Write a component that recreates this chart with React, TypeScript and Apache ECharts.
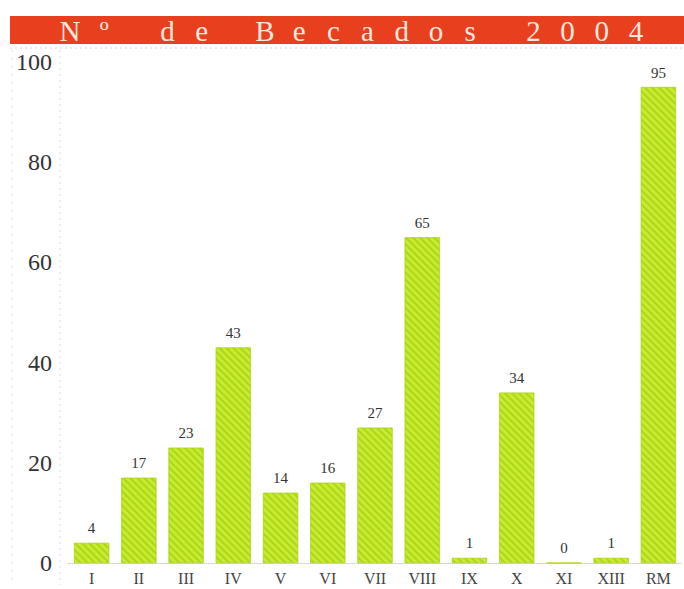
import React, { useEffect, useRef } from "react";
import * as echarts from "echarts";

const categories = ["I", "II", "III", "IV", "V", "VI", "VII", "VIII", "IX", "X", "XI", "XIII", "RM"];
const values = [4, 17, 23, 43, 14, 16, 27, 65, 1, 34, 0, 1, 95];
const yTicks = [0, 20, 40, 60, 80, 100];
const titleText = "Nº de Becados 2004";

export default function App() {
  const ref = useRef<HTMLDivElement>(null);
  useEffect(() => {
    if (!ref.current) return;
    const chart = echarts.init(ref.current, null, { renderer: "svg" });
    const serif = "Liberation Serif";
    const step = 34.2;
    const startX = 70;
    const chars = titleText.split("");
    const titleEls: any[] = [];
    let x = startX;
    chars.forEach((c) => {
      if (c === " ") {
        x += step * 0.85;
        return;
      }
      titleEls.push({
        type: "text",
        x,
        y: 31,
        style: {
          text: c,
          fill: "#f8e8de",
          font: `29px '${serif}'`,
          align: "center",
          verticalAlign: "middle",
        },
      });
      x += step;
    });
    chart.setOption({
      animation: false,
      backgroundColor: "#ffffff",
      grid: { left: 68, right: 2, top: 62, bottom: 26, containLabel: false },
      xAxis: {
        type: "category",
        data: categories,
        axisLine: { show: true, lineStyle: { color: "#cfcfcf", type: "dotted", width: 1 } },
        axisTick: { show: false },
        axisLabel: { color: "#444", fontFamily: serif, fontSize: 16, margin: 7 },
      },
      yAxis: {
        type: "value",
        min: 0,
        max: 100,
        interval: 20,
        axisLine: { show: false },
        axisTick: { show: false },
        splitLine: { show: false },
        axisLabel: {
          color: "#333",
          fontFamily: serif,
          fontSize: 24,
          margin: 16,
          formatter: (v: number) => (yTicks.includes(v) ? String(v) : ""),
        },
      },
      series: [
        {
          type: "bar",
          data: values,
          barWidth: 35,
          itemStyle: {
            color: "#c6ec2c",
            borderColor: "#b0d41e",
            borderWidth: 0.5,
            decal: {
              symbol: "rect",
              color: "rgba(150,190,20,0.5)",
              dashArrayX: [1, 0],
              dashArrayY: [1.5, 2.5],
              rotation: Math.PI / 4,
              symbolSize: 1,
            },
          },
          label: {
            show: true,
            position: "top",
            distance: 7,
            color: "#333",
            fontFamily: serif,
            fontSize: 15,
          },
        },
      ],
      graphic: [
        {
          type: "rect",
          shape: { x: 10, y: 16, width: 674, height: 28 },
          style: { fill: "#e8401f" },
        },
        ...titleEls,
        {
          type: "line",
          shape: { x1: 10, y1: 48, x2: 684, y2: 48 },
          style: { stroke: "#d6d6d6", lineDash: [2, 3], lineWidth: 1 },
        },
        {
          type: "line",
          shape: { x1: 60, y1: 50, x2: 60, y2: 585 },
          style: { stroke: "#dcdcdc", lineDash: [2, 4], lineWidth: 1 },
        },
        {
          type: "line",
          shape: { x1: 12, y1: 50, x2: 12, y2: 585 },
          style: { stroke: "#e6e6e6", lineDash: [2, 6], lineWidth: 1 },
        },
      ],
    });
    return () => chart.dispose();
  }, []);
  return <div ref={ref} style={{ width: 684, height: 589, position: "absolute", left: 0, top: 0 }} />;
}
